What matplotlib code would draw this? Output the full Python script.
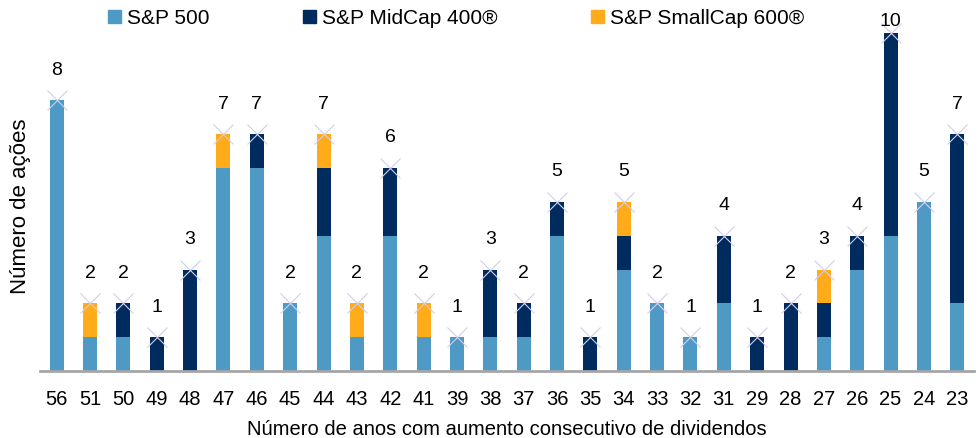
import numpy as np
import matplotlib.pyplot as plt
from matplotlib.patches import Patch

# data
anos = ['56', '51', '50', '49', '48', '47', '46', '45', '44', '43', '42', '41', '39', '38',
        '37', '36', '35', '34', '33', '32', '31', '29', '28', '27', '26', '25', '24', '23']
sp500 = [8, 1, 1, 0, 0, 6, 6, 2, 4, 1, 4, 1, 1, 1, 1, 4, 0, 3, 2, 1, 2, 0, 0, 1, 3, 4, 5, 2]
midcap = [0, 0, 1, 1, 3, 0, 1, 0, 2, 0, 2, 0, 0, 2, 1, 1, 1, 1, 0, 0, 2, 1, 2, 1, 1, 6, 0, 5]
smallcap = [0, 1, 0, 0, 0, 1, 0, 0, 1, 1, 0, 1, 0, 0, 0, 0, 0, 1, 0, 0, 0, 0, 0, 1, 0, 0, 0, 0]
series_names = ['S&P 500', 'S&P MidCap 400®', 'S&P SmallCap 600®']

COLORS = ['#4F9AC4', '#002B5E', '#FFAB1A']

plt.rcParams['font.family'] = ['Liberation Sans', 'DejaVu Sans']

fig = plt.figure(figsize=(9.79, 4.39), dpi=100)
ax = fig.add_axes([40 / 979, 67 / 439, 934 / 979, 372 / 439])

x = np.arange(len(anos))
a = np.array(sp500)
b = np.array(midcap)
c = np.array(smallcap)
total = a + b + c

ax.bar(x, a, width=0.42, color=COLORS[0], zorder=2)
ax.bar(x, b, width=0.42, bottom=a, color=COLORS[1], zorder=2)
ax.bar(x, c, width=0.42, bottom=a + b, color=COLORS[2], zorder=2)

# small x markers on top of each stack (as in the original)
ax.plot(x, total, ls='none', marker='x', ms=14, mew=0.8, color='#D2CEEA', zorder=3)

ymax = 11
for xi, t in zip(x, total):
    # the label of the tallest stack sits closer so it stays inside the chart
    off = 0.92 if t + 0.92 < ymax - 0.4 else 0.36
    ax.text(xi, t + off, str(t), ha='center', va='center', fontsize=14, color='black')

ax.set_xlim(-0.5, len(anos) - 0.5)
ax.set_ylim(0, ymax)
ax.set_yticks([])
ax.set_xticks(x)
ax.set_xticklabels(anos, fontsize=14.5)
ax.tick_params(axis='x', length=0, pad=13)
for s in ['top', 'right', 'left']:
    ax.spines[s].set_visible(False)
ax.spines['bottom'].set_color('#A6A6A6')
ax.spines['bottom'].set_linewidth(2)

ax.set_xlabel('Número de anos com aumento consecutivo de dividendos', fontsize=14.5)
ax.xaxis.set_label_coords(0.5, -0.13)
ax.set_ylabel('Número de ações', fontsize=16)
ax.yaxis.set_label_coords(-0.01, 0.445)

handles = [Patch(color=col) for col in COLORS]
fig.legend(handles, series_names, loc='center left', bbox_to_anchor=(100 / 979, 1 - 19 / 439),
           ncol=3, frameon=False, fontsize=15, handlelength=0.6, handleheight=0.6,
           handletextpad=0.3, columnspacing=4.5, borderaxespad=0)

fig.savefig('out.png', dpi=100)
